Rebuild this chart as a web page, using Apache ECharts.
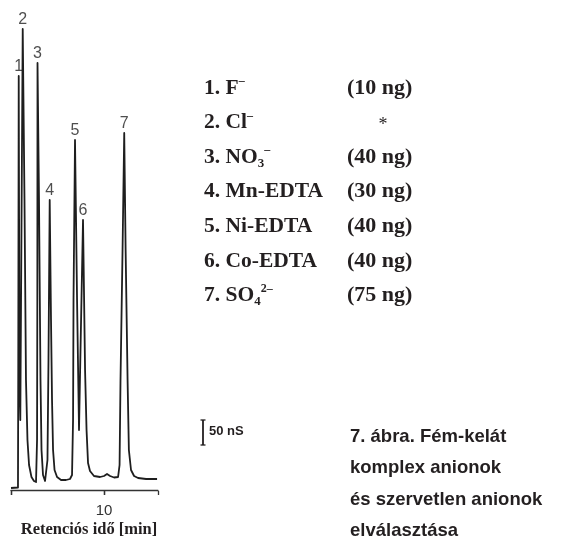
<!DOCTYPE html>
<html><head><meta charset="utf-8">
<script src="https://cdn.jsdelivr.net/npm/echarts@6/dist/echarts.min.js"></script>
<style>html,body{margin:0;padding:0;background:#fff}#c{width:580px;height:538px}</style>
</head><body><div id="c"></div>
<script>
// Chromatogram trace: retention time [min] and conductivity [nS]
const traceTime = [0.00,0.75,0.78,0.83,0.89,0.95,1.00,1.08,1.26,1.45,1.61,1.77,1.94,2.20,2.47,2.69,2.80,2.83,2.85,3.01,3.17,3.28,3.44,3.66,3.82,3.92,4.03,4.16,4.30,4.41,4.52,4.68,4.95,5.38,5.91,6.34,6.56,6.67,6.72,6.88,7.10,7.31,7.47,7.74,7.96,8.12,8.28,8.49,8.92,9.57,10.00,10.32,10.65,11.08,11.51,11.67,11.77,11.99,12.17,12.32,12.53,12.67,12.90,13.23,13.66,14.52,15.70];
const traceSignal = [4,5,240,828,380,180,140,380,922,580,220,100,50,26,18,16,100,380,854,580,220,80,30,18,14,60,260,580,340,180,80,40,26,20,20,22,30,140,380,700,380,120,280,540,240,120,54,38,28,26,28,32,28,25,26,50,220,480,714,480,220,80,40,28,24,22,22];
// Peak apexes
const peakLabels = ['1','2','3','4','5','6','7'];
const peakTime = [0.83,1.26,2.85,4.16,6.88,7.74,12.17];
const peakSignal = [828,922,854,580,700,540,714];
// Axis
const xTickValues = [0,10];
const xAxisTitle = 'Retenciós idő [min]';
// Legend
const compoundNames = ['{t|1. F}{sup|–}','{t|2. Cl}{sup|–}','{t|3. NO}{sub|3}{sup|–}','{t|4. Mn-EDTA}','{t|5. Ni-EDTA}','{t|6. Co-EDTA}','{t|7. SO}{sub|4}{sup|2–}'];
const amounts = ['(10 ng)','*','(40 ng)','(30 ng)','(40 ng)','(40 ng)','(75 ng)'];
const scaleBarValue = 50;
const scaleBarText = '50 nS';
const captionLines = ['7. ábra. Fém-kelát','komplex anionok','és szervetlen anionok','elválasztása'];

const ink = '#231f20';
const serif = '"Liberation Serif","DejaVu Serif",serif';
const sans = '"Liberation Sans","DejaVu Sans",sans-serif';

const chart = echarts.init(document.getElementById('c'), null, {renderer:'canvas'});
const lineData = traceTime.map((t,i)=>[t,traceSignal[i]]);
const peakData = peakTime.map((t,i)=>({value:[t,peakSignal[i]], label:{formatter:peakLabels[i]}}));

const fs = 21.5;
const richLegend = {
  t:{fontFamily:serif,fontWeight:'bold',fontSize:fs,color:ink,lineHeight:26},
  sup:{fontFamily:serif,fontWeight:'bold',fontSize:12,color:ink,verticalAlign:'top',lineHeight:14},
  sub:{fontFamily:serif,fontWeight:'bold',fontSize:13,color:ink,verticalAlign:'bottom',lineHeight:12}
};
const rowY0 = 88, rowStep = 34.6;
const graphics = [];
compoundNames.forEach((n,i)=>{
  graphics.push({type:'text',x:204,y:rowY0+i*rowStep,style:{text:n,rich:richLegend,fill:ink,verticalAlign:'middle'}});
  const isStar = amounts[i]==='*';
  graphics.push({type:'text',x:isStar?383:347,y:rowY0+i*rowStep+(isStar?3:0),style:{text:amounts[i],fontFamily:serif,fontSize:isStar?18:fs+0.5,fill:ink,align:isStar?'center':'left',verticalAlign:'middle',
    fontWeight:isStar?'normal':'bold'}});
});
graphics.push({type:'text',x:350,y:421,style:{text:captionLines.join('\n'),fontFamily:sans,fontWeight:'bold',fontSize:18.5,lineHeight:31.5,fill:ink,verticalAlign:'top'}});
graphics.push({type:'text',x:89,y:529.5,style:{text:xAxisTitle,fontFamily:serif,fontWeight:'bold',fontSize:16.5,fill:ink,align:'center',verticalAlign:'middle'}});

chart.setOption({
  animation:false,
  backgroundColor:'#fff',
  grid:{left:11,right:422,top:10,bottom:43,containLabel:false,outerBoundsMode:'none'},
  xAxis:[{type:'value',min:0,max:15.8,interval:10,
    axisLine:{show:true,lineStyle:{color:'#333',width:1.3}},
    axisTick:{show:true,length:5,lineStyle:{color:'#333',width:1.3}},
    axisLabel:{show:true,margin:8,color:'#333',fontFamily:sans,fontSize:15,showMaxLabel:false,
      formatter:v=> (xTickValues.indexOf(v)>=0 && v!==0) ? String(v) : ''},
    splitLine:{show:false}
  },{type:'value',min:0,max:15.8,interval:10,position:'bottom',
    axisLine:{show:false},axisTick:{show:true,inside:true,length:4,lineStyle:{color:'#333',width:1.3}},
    axisLabel:{show:false},splitLine:{show:false}}],
  yAxis:{type:'value',min:-10,max:960,show:false},
  series:[{type:'line',data:lineData,showSymbol:false,symbol:'none',smooth:false,
      lineStyle:{color:'#1e1e1e',width:1.8,join:'round'},z:3},
    {type:'scatter',data:peakData,symbolSize:0,
      label:{show:true,position:'top',distance:1,color:'#222',fontFamily:sans,fontSize:16}}],
  graphic:graphics
});

// scale bar sized from the y scale
const yBottom = chart.convertToPixel({yAxisIndex:0},0);
const yTop = chart.convertToPixel({yAxisIndex:0},scaleBarValue);
const barLen = yBottom - yTop;
const barX = 203, barBot = 445, barTopY = barBot - barLen;
graphics.push({type:'group',children:[
  {type:'line',shape:{x1:barX,y1:barTopY,x2:barX,y2:barBot},style:{stroke:ink,lineWidth:1.8}},
  {type:'line',shape:{x1:barX-2.5,y1:barTopY,x2:barX+2.5,y2:barTopY},style:{stroke:ink,lineWidth:1.3}},
  {type:'line',shape:{x1:barX-2.5,y1:barBot,x2:barX+2.5,y2:barBot},style:{stroke:ink,lineWidth:1.3}}
]});
graphics.push({type:'text',x:209,y:barTopY+11,style:{text:scaleBarText,fontFamily:sans,fontWeight:'bold',fontSize:13,fill:ink,verticalAlign:'middle'}});
chart.setOption({graphic:graphics},{replaceMerge:['graphic']});
</script></body></html>
